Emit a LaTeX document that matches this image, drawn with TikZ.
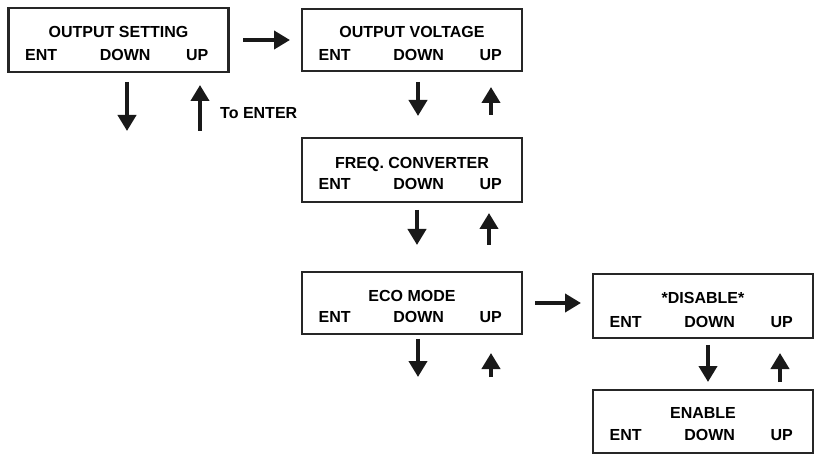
\documentclass[tikz,border=0pt]{standalone}
\usepackage{fontspec}
\setmainfont{Liberation Sans}
\usetikzlibrary{arrows.meta,calc}
\tikzset{
  lcd/.style={draw=black!85, line width=2.6pt, minimum width=220pt, inner sep=0pt},
  lbl/.style={font=\fontsize{16}{18}\selectfont\bfseries, text=black, inner sep=0pt, text height=11.5pt, text depth=0pt},
  arr/.style={line width=4pt, draw=black!90, -{Triangle[width=18pt,length=16pt]}},
}
\newcommand\lcdbox[7]{%
  \node[lcd, minimum height=#4pt] (#1) at (#2,#3) {};
  \node[lbl] (#1t) at ($(#1.center)+(0,#6)$) {#5};
  \node[lbl] (#1e) at ($(#1.west)+(34,#7)$) {ENT};
  \node[lbl] (#1d) at ($(#1.west)+(118,#7)$) {DOWN};
  \node[lbl] (#1u) at ($(#1.west)+(190,#7)$) {UP};
}
\begin{document}
\begin{tikzpicture}[x=1pt,y=-1pt]
\useasboundingbox (0,0) rectangle (820,457);
\lcdbox{b1}{118.5}{40}{64}{OUTPUT SETTING}{-8}{15}
\lcdbox{b2}{412}{40}{62}{OUTPUT VOLTAGE}{-8}{15}
\lcdbox{b3}{412}{170}{64}{FREQ. CONVERTER}{-7}{14}
\lcdbox{b4}{412}{303}{62}{ECO MODE}{-7}{14}
\lcdbox{b5}{703}{306}{64}{*DISABLE*}{-8}{16}
\lcdbox{b6}{703}{421.5}{63}{ENABLE}{-8.5}{13.5}
\node[lbl, anchor=west] (toent) at (220,113) {To ENTER};
% arrow end points
\coordinate (h1s) at (243,40);  \coordinate (h1e) at (290,40);
\coordinate (d1s) at (127,82);  \coordinate (d1e) at (127,131);
\coordinate (u1s) at (200,131); \coordinate (u1e) at (200,85);
\coordinate (d2s) at (418,82);  \coordinate (d2e) at (418,116);
\coordinate (u2s) at (491,115); \coordinate (u2e) at (491,87);
\coordinate (d3s) at (417,210); \coordinate (d3e) at (417,245);
\coordinate (u3s) at (489,245); \coordinate (u3e) at (489,213);
\coordinate (d4s) at (418,339); \coordinate (d4e) at (418,377);
\coordinate (u4s) at (491,377); \coordinate (u4e) at (491,353);
\coordinate (h2s) at (535,303); \coordinate (h2e) at (581,303);
\coordinate (d5s) at (708,345); \coordinate (d5e) at (708,382);
\coordinate (u5s) at (780,382); \coordinate (u5e) at (780,353);
\foreach \a in {h1,d1,u1,d2,u2,d3,u3,d4,u4,h2,d5,u5}
  \draw[arr] (\a s) -- (\a e);
\end{tikzpicture}
\end{document}
